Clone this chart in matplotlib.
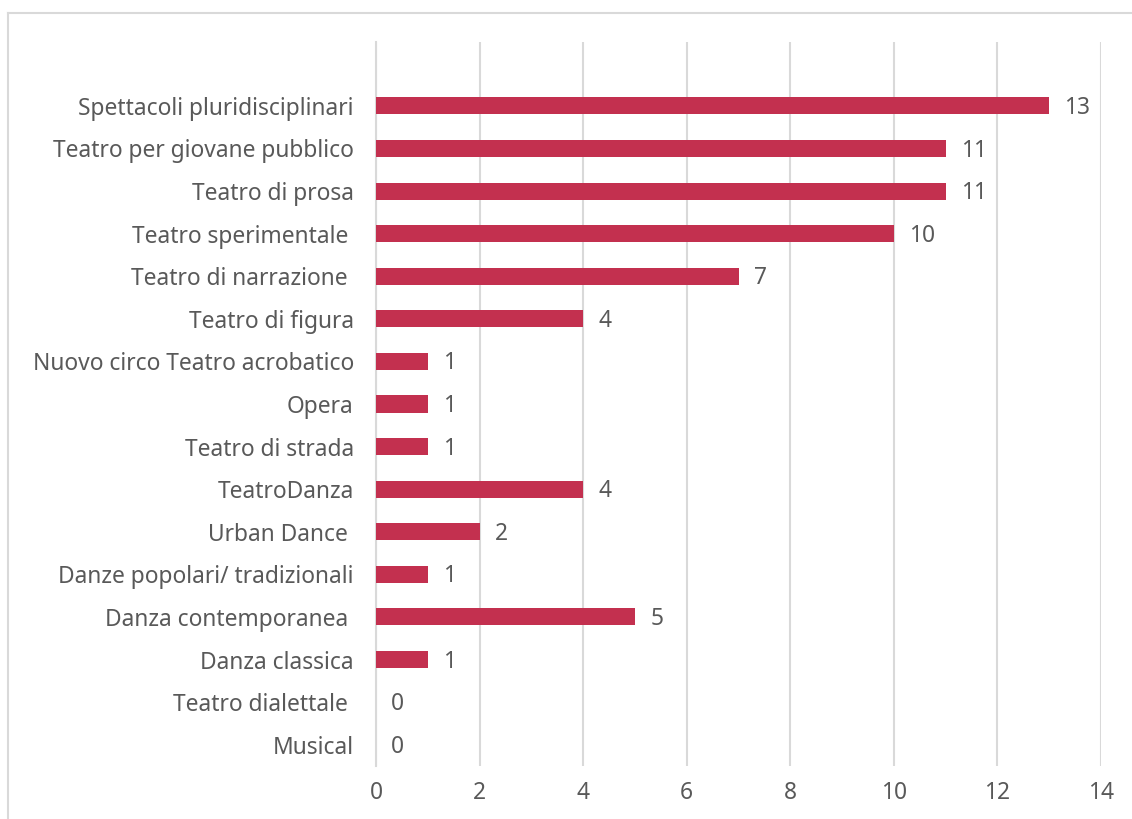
import matplotlib
matplotlib.use("Agg")
import matplotlib.pyplot as plt
from matplotlib.lines import Line2D

categories = ["Spettacoli pluridisciplinari", "Teatro per giovane pubblico", "Teatro di prosa",
              "Teatro sperimentale ", "Teatro di narrazione ", "Teatro di figura",
              "Nuovo circo Teatro acrobatico", "Opera", "Teatro di strada", "TeatroDanza",
              "Urban Dance ", "Danze popolari/ tradizionali", "Danza contemporanea ",
              "Danza classica", "Teatro dialettale ", "Musical"]
values = [13, 11, 11, 10, 7, 4, 1, 1, 1, 4, 2, 1, 5, 1, 0, 0]
xticks = [0, 2, 4, 6, 8, 10, 12, 14]

plt.rcParams['font.family'] = ['Noto Sans', 'DejaVu Sans']
textc = '#595959'
barc = '#C3304F'
fs = 16.4

fig = plt.figure(figsize=(11.32, 8.19), dpi=100)
ax = fig.add_axes([376/1132, 1-766/819, (1101-376)/1132, (766-42)/819])

n = len(categories)
ypos = [n - 1 - i for i in range(n)]
ax.barh(ypos, values, height=0.4, color=barc, zorder=3)
for y, v in zip(ypos, values):
    ax.annotate(str(v), (v, y), xytext=(11, -1.5), textcoords='offset points',
                va='center', ha='left', fontsize=fs, color=textc)

ax.set_xlim(0, 14)
ax.set_ylim(-0.5, n + 0.5)
ax.set_yticks(ypos)
ax.set_yticklabels(categories, fontsize=fs, color=textc)
ax.set_xticks(xticks)
ax.set_xticklabels([str(t) for t in xticks], fontsize=fs, color=textc)
ax.tick_params(axis='both', length=0)
ax.tick_params(axis='y', pad=16)
ax.tick_params(axis='x', pad=11)
ax.grid(axis='x', color='#D9D9D9', linewidth=1.5, zorder=0)
for s in ['top', 'right', 'bottom']:
    ax.spines[s].set_visible(False)
ax.spines['left'].set_color('#D9D9D9')
ax.spines['left'].set_linewidth(1.5)

# outer frame (partially visible)
fig.add_artist(Line2D([8/1132, 8/1132], [0, 1-13/819], color='#D9D9D9', lw=1.5, transform=fig.transFigure))
fig.add_artist(Line2D([8/1132, 1], [1-13/819, 1-13/819], color='#D9D9D9', lw=1.5, transform=fig.transFigure))

fig.savefig('out.png', dpi=100)
